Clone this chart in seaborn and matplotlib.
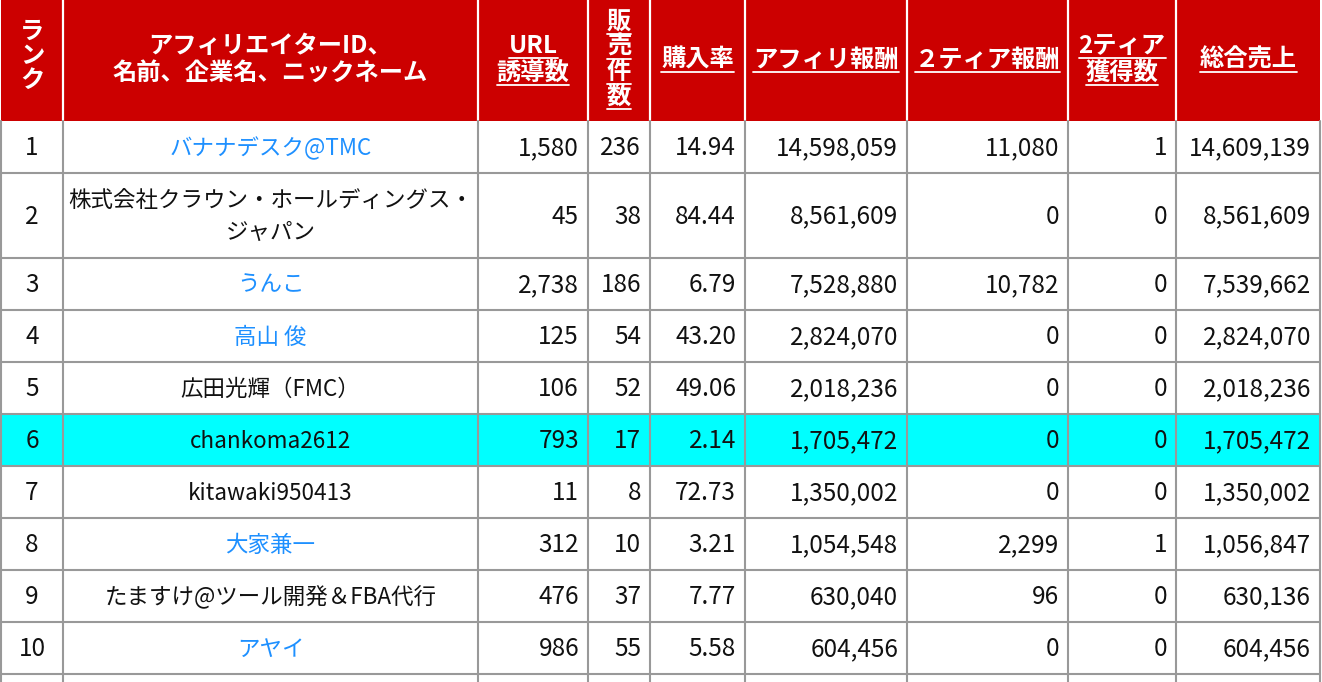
import pandas as pd
import seaborn as sns
import matplotlib.pyplot as plt
from matplotlib.patches import Rectangle

# table data
ranks = [1, 2, 3, 4, 5, 6, 7, 8, 9, 10]
names = [
    "バナナデスク@TMC",
    "株式会社クラウン・ホールディングス・\nジャパン",
    "うんこ",
    "高山 俊",
    "広田光輝（FMC）",
    "chankoma2612",
    "kitawaki950413",
    "大家兼一",
    "たますけ@ツール開発＆FBA代行",
    "アヤイ",
]
url_clicks = [1580, 45, 2738, 125, 106, 793, 11, 312, 476, 986]
sales_count = [236, 38, 186, 54, 52, 17, 8, 10, 37, 55]
purchase_rate = [14.94, 84.44, 6.79, 43.20, 49.06, 2.14, 72.73, 3.21, 7.77, 5.58]
affiliate_reward = [14598059, 8561609, 7528880, 2824070, 2018236, 1705472, 1350002, 1054548, 630040, 604456]
tier2_reward = [11080, 0, 10782, 0, 0, 0, 0, 2299, 96, 0]
tier2_count = [1, 0, 0, 0, 0, 0, 0, 1, 0, 0]
total_sales = [14609139, 8561609, 7539662, 2824070, 2018236, 1705472, 1350002, 1056847, 630136, 604456]
linked = [True, False, True, True, False, False, False, True, False, True]
highlight_rank = 6

header_lines = [
    ["ラ", "ン", "ク"],
    ["アフィリエイターID、", "名前、企業名、ニックネーム"],
    ["URL", "誘導数"],
    ["販", "売", "件", "数"],
    ["購入率"],
    ["アフィリ報酬"],
    ["２ティア報酬"],
    ["2ティア", "獲得数"],
    ["総合売上"],
]
header_underline = [False, False, True, True, True, True, True, True, True]

df = pd.DataFrame({
    "rank": [str(r) for r in ranks],
    "name": names,
    "url": [f"{v:,}" for v in url_clicks],
    "sales": [f"{v:,}" for v in sales_count],
    "rate": [f"{v:.2f}" for v in purchase_rate],
    "affil": [f"{v:,}" for v in affiliate_reward],
    "tier2": [f"{v:,}" for v in tier2_reward],
    "tier2n": [f"{v:,}" for v in tier2_count],
    "total": [f"{v:,}" for v in total_sales],
})

sns.set_theme(style="white")
plt.rcParams["font.family"] = ["Noto Sans CJK JP", "DejaVu Sans"]

RED = "#cc0000"
GRID = "#999999"
BLUE = "#1e90ff"
CYAN = "#00ffff"

col_edges = [1, 63, 478, 588, 650, 745, 907, 1068, 1176, 1320]
align = ["center", "center"] + ["right"] * 7
header_bottom = 121
base_h, extra_h = 52, 33

fig = plt.figure(figsize=(13.22, 6.82), dpi=100)
ax = fig.add_axes([0, 0, 1, 1])
ax.set_xlim(0, 1322)
ax.set_ylim(682, 0)
ax.axis("off")

# header
ax.add_patch(Rectangle((col_edges[0], 0), col_edges[-1] - col_edges[0], header_bottom, color=RED, lw=0))
for x in col_edges[1:-1]:
    ax.plot([x, x], [0, header_bottom], color="white", lw=1.6)

under_texts = []
for i, lines in enumerate(header_lines):
    cx = (col_edges[i] + col_edges[i + 1]) / 2
    step = 25 if all(len(s) == 1 for s in lines) else 27
    if i == 0:
        step = 24
    center = 56 if i == 0 else 59.5
    y0 = center - step * (len(lines) - 1) / 2
    for j, s in enumerate(lines):
        t = ax.text(cx, y0 + j * step, s, ha="center", va="center", color="white",
                    fontsize=17.5, fontweight="bold")
        if header_underline[i]:
            under_texts.append((t, y0 + j * step + 12))

# body rows
y = header_bottom
row_tops = []
for k in range(len(df)):
    n_lines = df["name"][k].count("\n") + 1
    h = base_h + extra_h * (n_lines - 1)
    row_tops.append((y, h))
    if ranks[k] == highlight_rank:
        ax.add_patch(Rectangle((col_edges[0], y), col_edges[-1] - col_edges[0], h, color=CYAN, lw=0))
    cy = y + h / 2
    for c, col in enumerate(df.columns):
        if align[c] == "center":
            tx = (col_edges[c] + col_edges[c + 1]) / 2
        else:
            tx = col_edges[c + 1] - 9
        color = BLUE if (col == "name" and linked[k]) else "#111111"
        size = 16.2 if col == "name" else 17.5
        ax.text(tx, cy + 1, df[col][k], ha=align[c], va="center", color=color,
                fontsize=size, linespacing=1.5)
    y += h

# grid lines
for top, h in row_tops:
    ax.plot([col_edges[0], col_edges[-1]], [top + h, top + h], color=GRID, lw=1.5)
for x in col_edges:
    ax.plot([x, x], [header_bottom, 682], color=GRID, lw=1.5)

# underlines in header
fig.canvas.draw()
renderer = fig.canvas.get_renderer()
inv = ax.transData.inverted()
for t, uy in under_texts:
    bb = t.get_window_extent(renderer)
    x0 = inv.transform((bb.x0, bb.y0))[0]
    x1 = inv.transform((bb.x1, bb.y0))[0]
    ax.plot([x0, x1], [uy, uy], color="white", lw=1.3)

fig.savefig("out.png", dpi=100)
